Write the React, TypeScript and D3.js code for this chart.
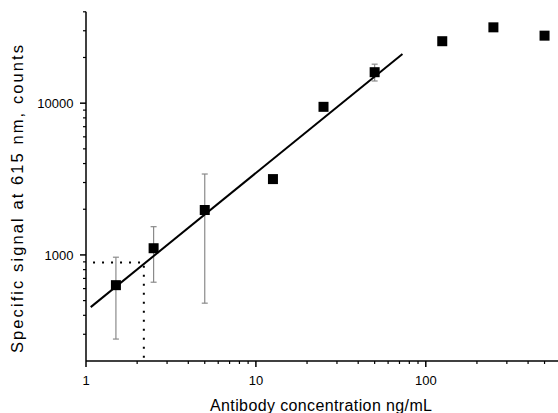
import React from "react";
import * as d3 from "d3";

const conc = [1.5, 2.5, 5, 12.6, 25, 50, 125, 250, 500];
const signal = [632, 1107, 1977, 3160, 9460, 16000, 25600, 31600, 27850];
const errLow = [279, 661, 481, null, null, 14000, null, null, null];
const errHigh = [966, 1535, 3413, null, null, 18070, null, null, null];
const fitX = [1.066, 72.9];
const fitY = [453, 21100];
const guideX = [1.1, 2.19, 2.19];
const guideY = [890, 890, 200];
const xMajor = [1, 10, 100];
const xMinor = [2, 3, 4, 5, 6, 7, 8, 9, 20, 30, 40, 50, 60, 70, 80, 90, 200, 300, 400, 500];
const yMajor = [1000, 10000];
const yMinor = [300, 400, 500, 600, 700, 800, 900, 2000, 3000, 4000, 5000, 6000, 7000, 8000, 9000, 20000, 30000, 40000];

const W = 558;
const H = 413;
const x = d3.scaleLog().domain([1, 600]).range([86, 558]);
const y = d3.scaleLog().domain([200, 40000]).range([361, 11.8]);
const font = "'Liberation Sans', Arial, Helvetica, sans-serif";

export default function App() {
  const line = d3.line<number>().x((d, i) => x(fitX[i])).y((d, i) => y(fitY[i]));
  const guide = d3.line<number>().x((d, i) => x(guideX[i])).y((d, i) => y(guideY[i]));
  const ms = 10;
  return (
    <svg width={W} height={H} style={{ position: "absolute", left: 0, top: 0, background: "#fff" }}>
      <path d={guide(guideX) || ""} fill="none" stroke="#000" strokeWidth={2} strokeDasharray="2,7" />
      {conc.map((c, i) =>
        errLow[i] != null ? (
          <g key={"e" + i} stroke="#8a8a8a" strokeWidth={1.2}>
            <line x1={x(c)} x2={x(c)} y1={y(errLow[i] as number)} y2={y(errHigh[i] as number)} />
            <line x1={x(c) - 3} x2={x(c) + 3} y1={y(errLow[i] as number)} y2={y(errLow[i] as number)} />
            <line x1={x(c) - 3} x2={x(c) + 3} y1={y(errHigh[i] as number)} y2={y(errHigh[i] as number)} />
          </g>
        ) : null
      )}
      <path d={line(fitX) || ""} fill="none" stroke="#000" strokeWidth={2} />
      {conc.map((c, i) => (
        <rect key={"m" + i} x={x(c) - ms / 2} y={y(signal[i]) - ms / 2} width={ms} height={ms} fill="#000" />
      ))}
      <line x1={86} x2={558} y1={361} y2={361} stroke="#000" strokeWidth={1.5} />
      <line x1={86} x2={86} y1={11.8} y2={361} stroke="#000" strokeWidth={1.5} />
      {xMajor.map((t) => (
        <g key={"xm" + t}>
          <line x1={x(t)} x2={x(t)} y1={361} y2={367} stroke="#000" strokeWidth={1.5} />
          <text x={x(t)} y={385} textAnchor="middle" fontFamily={font} fontSize={13}>{t}</text>
        </g>
      ))}
      {xMinor.map((t) => (
        <line key={"xn" + t} x1={x(t)} x2={x(t)} y1={361} y2={364} stroke="#000" strokeWidth={1.2} />
      ))}
      {yMajor.map((t) => (
        <g key={"ym" + t}>
          <line x1={80} x2={86} y1={y(t)} y2={y(t)} stroke="#000" strokeWidth={1.5} />
          <text x={73.5} y={y(t) + 4.8} textAnchor="end" fontFamily={font} fontSize={13}>{t}</text>
        </g>
      ))}
      {yMinor.map((t) => (
        <line key={"yn" + t} x1={83} x2={86} y1={y(t)} y2={y(t)} stroke="#000" strokeWidth={1.2} />
      ))}
      <text x={210} y={410.5} fontFamily={font} fontSize={16} textLength={222} lengthAdjust="spacing">
        Antibody concentration ng/mL
      </text>
      <text transform="translate(23,353) rotate(-90)" fontFamily={font} fontSize={16.5} textLength={308} lengthAdjust="spacing">
        Specific signal at 615 nm,  counts
      </text>
    </svg>
  );
}
